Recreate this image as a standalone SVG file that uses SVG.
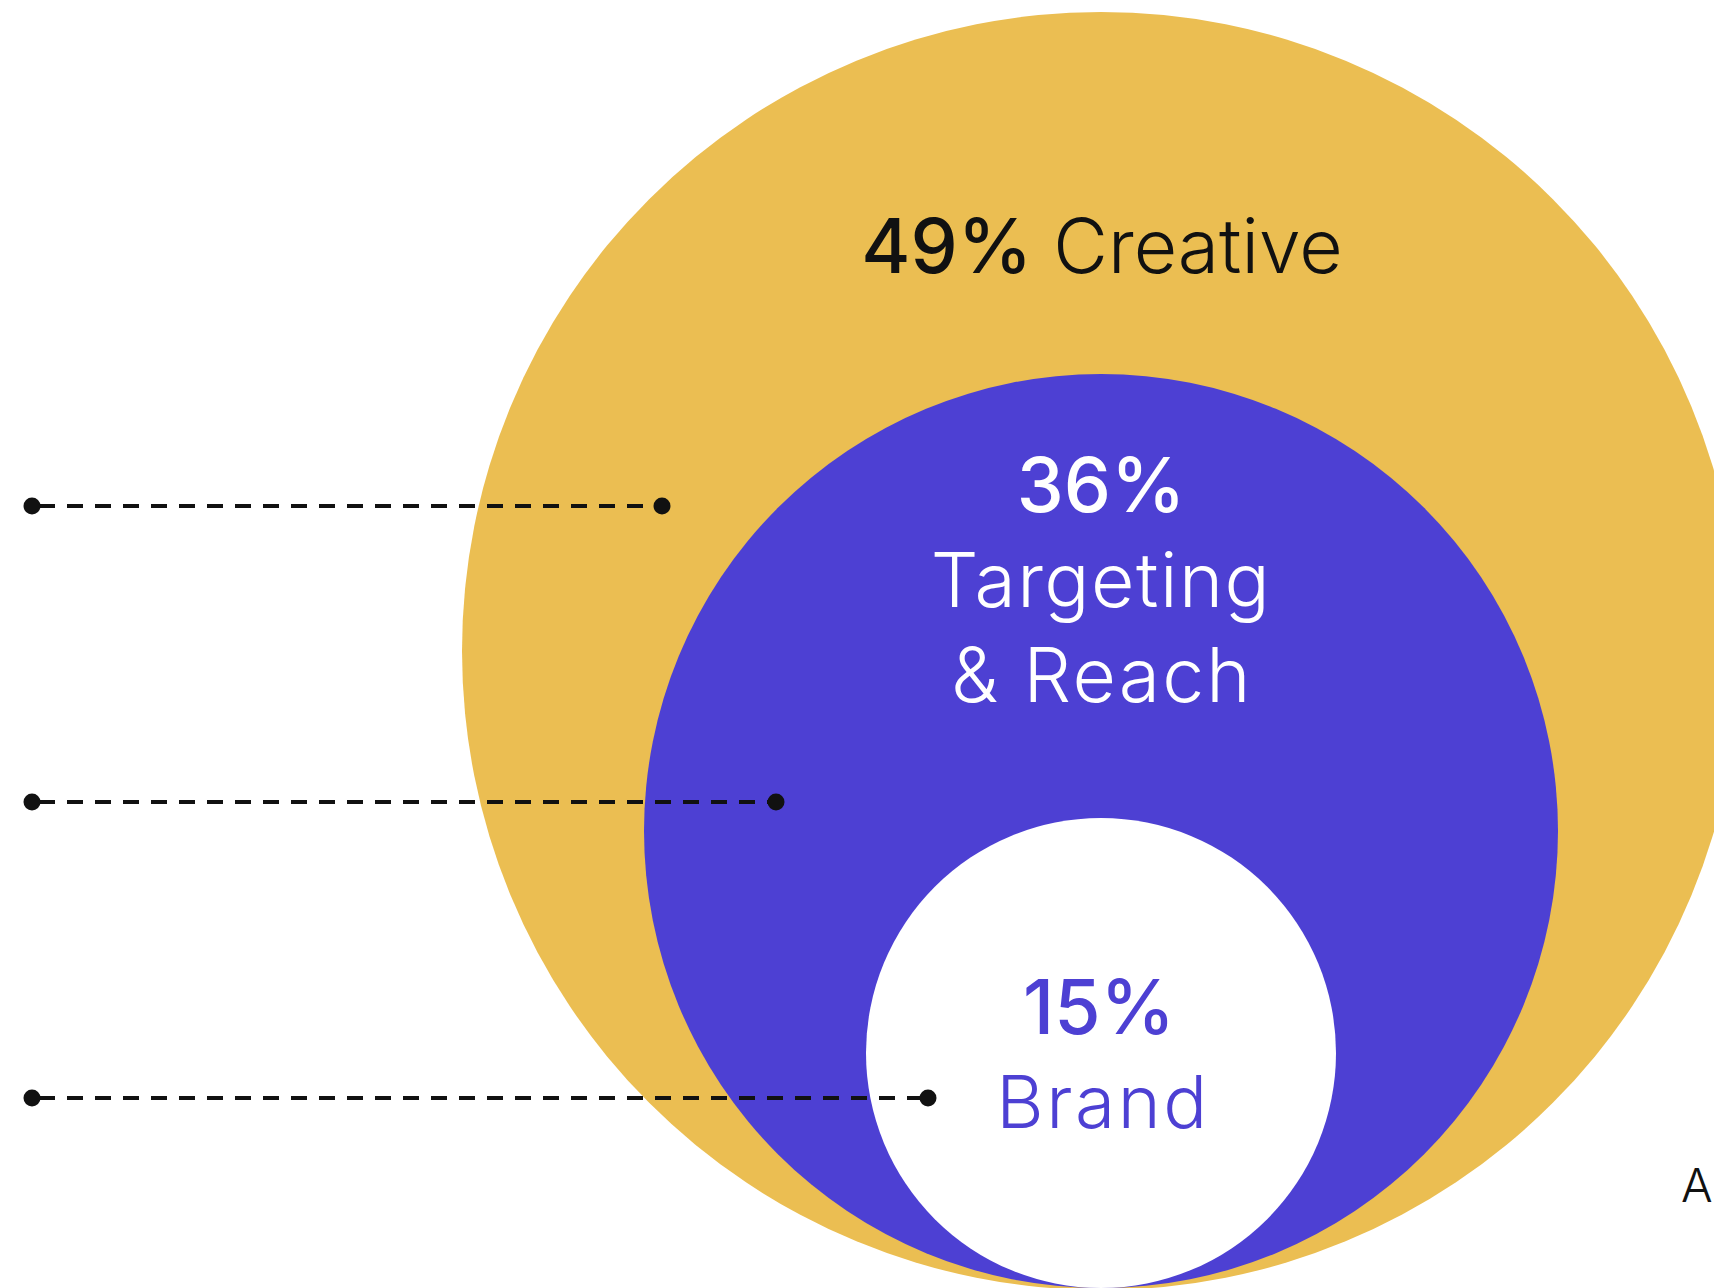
<svg xmlns="http://www.w3.org/2000/svg" width="1714" height="1288" viewBox="0 0 1714 1288">
<style>
.lbl{font-family:Inter,"Noto Sans","Liberation Sans",sans-serif;text-anchor:middle}
.num{font-weight:500}
.word{font-weight:300;letter-spacing:1.5px}
.dash{stroke:#111;stroke-width:4;stroke-dasharray:16 12;fill:none}
.dot{fill:#111}
</style>
<rect width="1714" height="1288" fill="#fff"/>
<g id="creative">
<circle cx="1101" cy="651" r="639" fill="#EBBE52"/>
<text class="lbl" x="1102" y="273" font-size="75" fill="#111"><tspan class="num">49%</tspan><tspan font-weight="300"> Creative</tspan></text>
</g>
<g id="targeting">
<circle cx="1101" cy="831" r="457" fill="#4D40D3"/>
<text class="lbl num" x="1101" y="512" font-size="75" fill="#fff">36%</text>
<text class="lbl word" x="1101" y="607" font-size="75" fill="#fff">Targeting</text>
<text class="lbl word" x="1102" y="702" font-size="75" fill="#fff" style="letter-spacing:2.2px">&amp; Reach</text>
</g>
<g id="brand">
<circle cx="1101" cy="1053" r="235" fill="#fff"/>
<text class="lbl num" x="1099" y="1034" font-size="75" fill="#4D40D3">15%</text>
<text class="lbl word" x="1103" y="1128" font-size="73" fill="#4D40D3" style="letter-spacing:2.6px">Brand</text>
</g>
<g id="side-label">
<text x="1681" y="1202" font-family="Inter,'Liberation Sans',sans-serif" font-weight="300" font-size="47" fill="#111">A</text>
</g>
<g id="connectors">
<line class="dash" x1="39" y1="506" x2="654" y2="506"/>
<circle class="dot" cx="32" cy="506" r="8.5"/>
<circle class="dot" cx="662" cy="506" r="8.5"/>
<line class="dash" x1="39" y1="802" x2="768" y2="802"/>
<circle class="dot" cx="32" cy="802" r="8.5"/>
<circle class="dot" cx="776" cy="802" r="8.5"/>
<line class="dash" x1="39" y1="1098" x2="920" y2="1098"/>
<circle class="dot" cx="32" cy="1098" r="8.5"/>
<circle class="dot" cx="928" cy="1098" r="8.5"/>
</g>
</svg>
